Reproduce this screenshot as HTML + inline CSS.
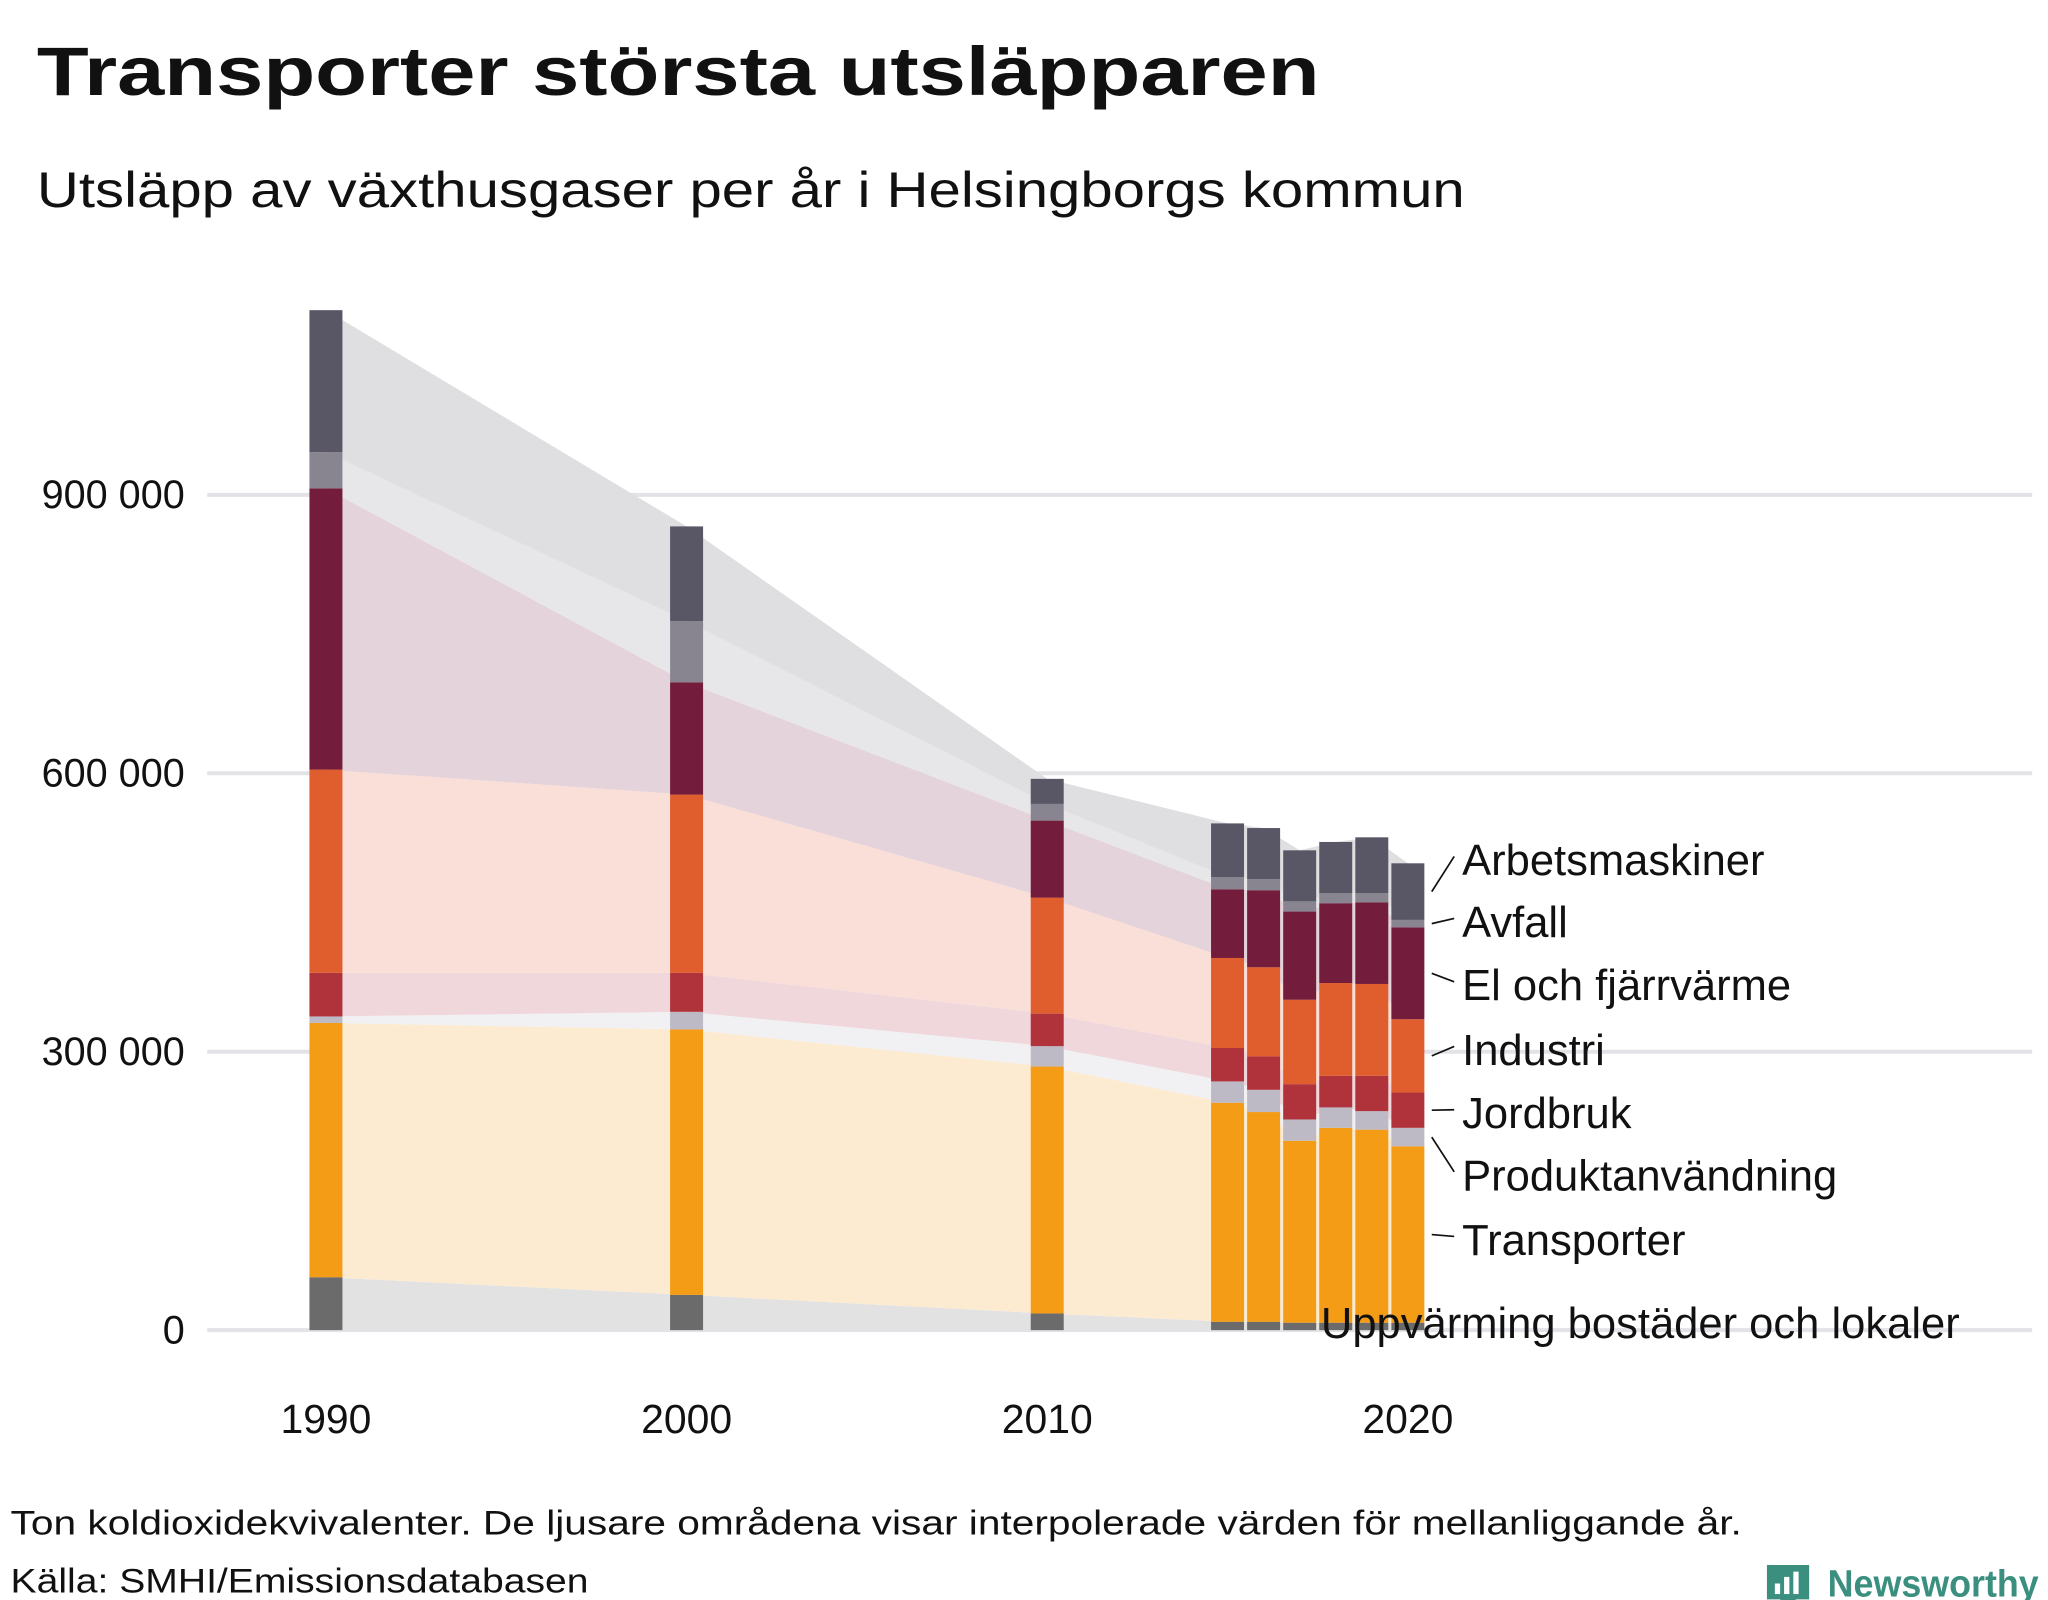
<!DOCTYPE html>
<html><head><meta charset="utf-8"><style>html,body{margin:0;padding:0;background:#fff}svg{display:block}</style></head>
<body>
<svg id="chart" width="2048" height="1600" viewBox="0 0 1552 1212.5" xmlns="http://www.w3.org/2000/svg" font-family="Liberation Sans, sans-serif">
<text x="28" y="72" font-size="52" font-weight="bold" fill="#111" textLength="972" lengthAdjust="spacingAndGlyphs">Transporter största utsläpparen</text>
<text x="28" y="157" font-size="38" fill="#111" textLength="1082" lengthAdjust="spacingAndGlyphs">Utsläpp av växthusgaser per år i Helsingborgs kommun</text>
<g id="grid"></g><g id="bands"></g><g id="bars"></g><g id="labels"></g>
<text x="8" y="1163" font-size="26" fill="#111" textLength="1312" lengthAdjust="spacingAndGlyphs">Ton koldioxidekvivalenter. De ljusare områdena visar interpolerade värden för mellanliggande år.</text>
<text x="8" y="1207" font-size="26" fill="#111" textLength="438" lengthAdjust="spacingAndGlyphs">Källa: SMHI/Emissionsdatabasen</text>
<g>
<path d="M1339 1186 h32 v26 h-10 l-6 8 l-6 -8 h-10 z" fill="#3b8f7e"/>
<rect x="1345" y="1200" width="4" height="8" fill="#fff"/><rect x="1352" y="1195" width="4" height="13" fill="#fff"/><rect x="1359" y="1191" width="4" height="17" fill="#fff"/>
<text x="1385" y="1210" font-size="29" font-weight="bold" fill="#3b8f7e" textLength="160" lengthAdjust="spacingAndGlyphs">Newsworthy</text>
</g>
</svg>
<script>
const years=[1990,2000,2010,2015,2016,2017,2018,2019,2020];
const names=["Uppvärming bostäder och lokaler","Transporter","Produktanvändning","Jordbruk","Industri","El och fjärrvärme","Avfall","Arbetsmaskiner"];
const uppvarming=[57000,38000,18000,9000,9000,8000,8000,8000,8000];
const transporter=[274000,286000,266000,236000,226000,196000,210000,208000,190000];
const produkt=[7000,19000,22000,23000,24000,23000,22000,20000,20000];
const jordbruk=[47000,42000,35000,36000,36000,38000,34000,38000,38000];
const industri=[219000,192000,125000,97000,96000,91000,100000,99000,79000];
const elfjarr=[303000,121000,83000,74000,83000,95000,86000,88000,99000];
const avfall=[39000,66000,18000,13000,12000,11000,11000,10000,8000];
const arbetsmaskiner=[153000,102000,27000,58000,55000,55000,55000,60000,61000];
const yTicks=[0,300000,600000,900000];
const yTickLabels=["0","300 000","600 000","900 000"];
const xTicks=[1990,2000,2010,2020];
const series=[uppvarming,transporter,produkt,jordbruk,industri,elfjarr,avfall,arbetsmaskiner];
const barColors=["#6b6b6b","#f59c17","#bdbac6","#b0323b","#e05d2e","#731c3b","#888490","#595766"];
const bandColors=["#e2e2e3","#fcebd0","#f1f0f3","#f0d7dc","#f9dfd7","#e4d3da","#e7e7ea","#dfdfe1"];
const NS="http://www.w3.org/2000/svg";
const xs=yr=>247+(yr-1990)*27.33;
const ys=v=>1008-v/300000*211;
const bw=25;
function mk(t,a,p){const e=document.createElementNS(NS,t);for(const k in a)e.setAttribute(k,a[k]);document.getElementById(p).appendChild(e);return e;}
yTicks.forEach((t,i)=>{
 const l=mk('line',{x1:157,x2:1540,y1:ys(t),y2:ys(t),stroke:'#e3e2e7','stroke-width':3},'grid');
 
 
 const tx=mk('text',{x:140,y:ys(t)+10,'font-size':30,'text-anchor':'end',fill:'#111'},'grid');
 tx.textContent=yTickLabels[i];
 
 
});
xTicks.forEach(t=>{
 const tx=mk('text',{x:xs(t),y:1086,'font-size':31,'text-anchor':'middle',fill:'#111'},'grid');
 tx.textContent=String(t);
 
 
});
const cum=years.map(()=>0);
series.forEach((s,si)=>{
 const lo=cum.slice();const hi=cum.map((c,i)=>c+s[i]);
 let pts=years.map((yr,i)=>xs(yr)+','+ys(hi[i]));
 pts=pts.concat(years.map((yr,i)=>xs(yr)+','+ys(lo[i])).reverse());
 const p=mk('polygon',{points:pts.join(' '),fill:bandColors[si]},'bands');
 
 
 years.forEach((yr,i)=>{
  const r=mk('rect',{x:xs(yr)-bw/2,y:ys(hi[i]),width:bw,height:ys(lo[i])-ys(hi[i]),fill:barColors[si]},'bars');
  
  
 });
 hi.forEach((v,i)=>{cum[i]=v;});
});
const labelY=[1002,939,890,843,795,746,698,651];
const last=years.length-1;
let c2=0;
series.forEach((s,si)=>{
 const mid=ys(c2+s[last]/2);c2+=s[last];
 const tx=mk('text',{x:si===0?1001:1108,y:labelY[si]+12,'font-size':33,fill:'#111'},'labels');
 tx.textContent=names[si];
 
 
 if(si>0){
  const l=mk('line',{x1:1085,y1:mid,x2:1102,y2:labelY[si]-2,stroke:'#111','stroke-width':1.3},'labels');
  
  
 }
});
</script>
</body></html>
